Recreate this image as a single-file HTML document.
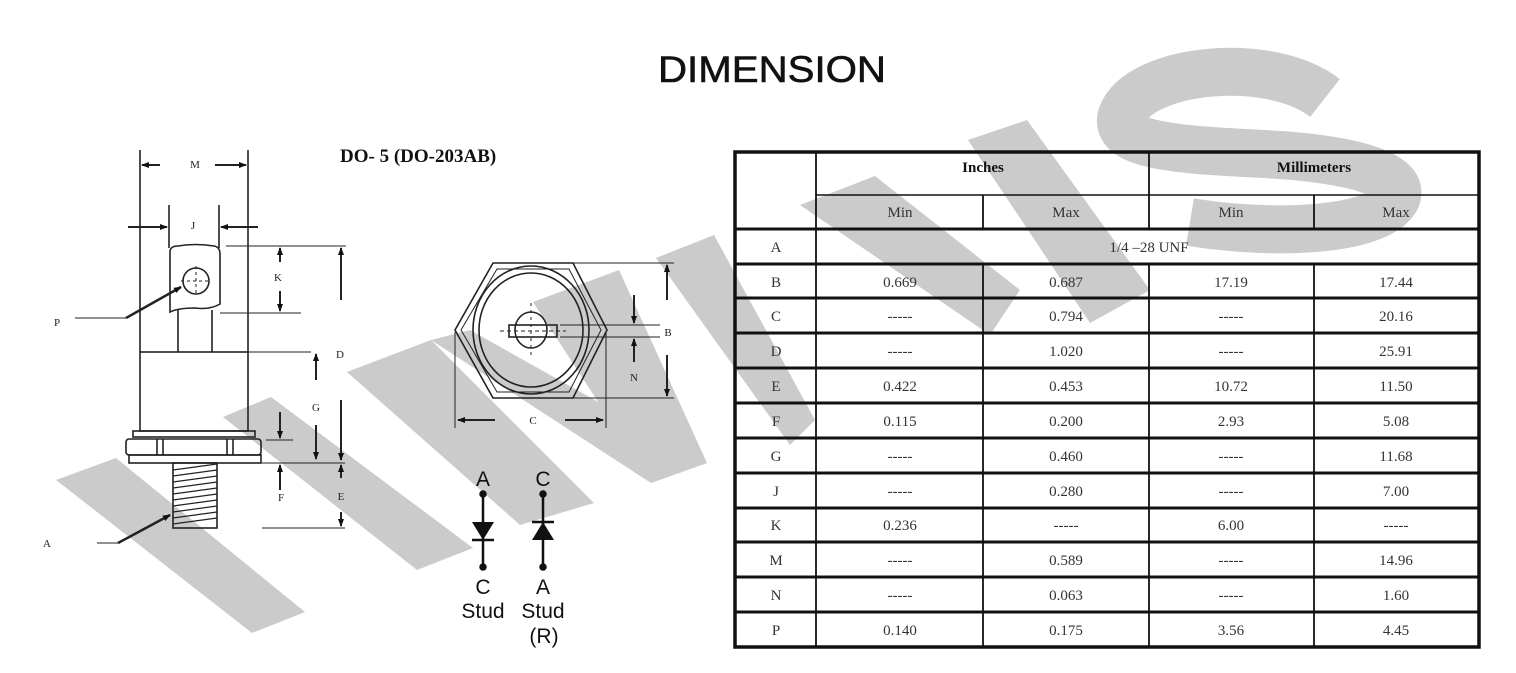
<!DOCTYPE html>
<html><head><meta charset="utf-8"><style>
html,body{margin:0;padding:0;background:#fff;}
svg{display:block;}
.t{font-family:"Liberation Serif",serif;fill:#333;}
.s{font-family:"Liberation Sans",sans-serif;fill:#111;}
</style></head><body>
<svg width="1516" height="673" viewBox="0 0 1516 673" xmlns="http://www.w3.org/2000/svg">
<defs>
<marker id="ar" markerWidth="8" markerHeight="8" refX="7" refY="4" orient="auto" markerUnits="userSpaceOnUse"><path d="M0,1 L8,4 L0,7 Z" fill="#111"/></marker>
</defs>
<rect width="1516" height="673" fill="#fff"/>

<!-- WATERMARK (behind) -->
<g fill="#cbcbcb">
<polygon points="56,480 116,458 305,612 252,633"/>
<polygon points="223,417 271,397 473,548 417,570"/>
<polygon points="347,372 431,340 594,503 520,525"/>
<polygon points="431,340 470,330 707,463 651,483"/>
<polygon points="533,302 619,270 707,463 651,483"/>
<polygon points="656,258 714,235 815,420 790,445"/>
<polygon points="800,205 875,176 1020,290 990,335"/>
<polygon points="968,140 1027,120 1150,290 1090,323"/>
</g>
<path d="M1325,98 C1270,55 1140,68 1122,115 C1110,150 1200,150 1280,155 C1380,162 1420,185 1385,210 C1345,235 1250,232 1190,222" fill="none" stroke="#cbcbcb" stroke-width="48"/>

<text x="772" y="82" text-anchor="middle" class="s" font-size="37" textLength="228" lengthAdjust="spacingAndGlyphs" style="fill:#111;stroke:#111;stroke-width:0.6">DIMENSION</text>
<text x="340" y="162" class="t" font-size="19" font-weight="bold" style="fill:#111">DO- 5 (DO-203AB)</text>

<!-- LEFT DEVICE -->
<g stroke="#222" stroke-width="1.6" fill="none">
<line x1="140" y1="150" x2="140" y2="352"/>
<line x1="248" y1="150" x2="248" y2="352"/>
<line x1="160" y1="165" x2="142" y2="165" marker-end="url(#ar)" stroke-width="2"/>
<line x1="215" y1="165" x2="246" y2="165" marker-end="url(#ar)" stroke-width="2"/>
<line x1="169" y1="205" x2="169" y2="248"/>
<line x1="219" y1="205" x2="219" y2="248"/>
<line x1="128" y1="227" x2="167" y2="227" marker-end="url(#ar)" stroke-width="2"/>
<line x1="258" y1="227" x2="221" y2="227" marker-end="url(#ar)" stroke-width="2"/>
<path d="M170,252 Q170,246 178,246 Q195,243 214,246 Q220,247 220,254 L220,304 Q210,310 195,308 Q178,308 170,312 Z"/>
<circle cx="196" cy="281" r="13"/>
<line x1="196" y1="266" x2="196" y2="296" stroke-dasharray="3,3" stroke-width="1"/>
<line x1="181" y1="281" x2="211" y2="281" stroke-dasharray="3,3" stroke-width="1"/>
<line x1="178" y1="310" x2="178" y2="352"/>
<line x1="212" y1="310" x2="212" y2="352"/>
<rect x="140" y="352" width="108" height="79"/>
<rect x="133" y="431" width="122" height="6"/>
<rect x="126" y="439" width="135" height="16" rx="3"/>
<line x1="157" y1="439" x2="157" y2="455"/><line x1="163" y1="439" x2="163" y2="455"/>
<line x1="227" y1="439" x2="227" y2="455"/><line x1="233" y1="439" x2="233" y2="455"/>
<rect x="129" y="455" width="132" height="8"/>
<rect x="173" y="463" width="44" height="65"/>
<g stroke-width="1.2">
<line x1="173" y1="470" x2="217" y2="464"/><line x1="173" y1="476" x2="217" y2="470"/><line x1="173" y1="482" x2="217" y2="476"/><line x1="173" y1="488" x2="217" y2="482"/><line x1="173" y1="494" x2="217" y2="488"/><line x1="173" y1="500" x2="217" y2="494"/><line x1="173" y1="506" x2="217" y2="500"/><line x1="173" y1="512" x2="217" y2="506"/><line x1="173" y1="518" x2="217" y2="512"/><line x1="173" y1="524" x2="217" y2="518"/>
</g>
<line x1="75" y1="318" x2="126" y2="318" stroke-width="1"/>
<line x1="126" y1="318" x2="181" y2="287" stroke-width="2.5" marker-end="url(#ar)"/>
<line x1="97" y1="543" x2="118" y2="543" stroke-width="1"/>
<line x1="118" y1="543" x2="170" y2="515" stroke-width="2.5" marker-end="url(#ar)"/>
<line x1="226" y1="246" x2="346" y2="246" stroke-width="1"/>
<line x1="220" y1="313" x2="301" y2="313" stroke-width="1"/>
<line x1="248" y1="352" x2="311" y2="352" stroke-width="1"/>
<line x1="280" y1="262" x2="280" y2="248" marker-end="url(#ar)" stroke-width="2"/>
<line x1="280" y1="291" x2="280" y2="311" marker-end="url(#ar)" stroke-width="2"/>
<line x1="341" y1="300" x2="341" y2="248" marker-end="url(#ar)" stroke-width="2"/>
<line x1="316" y1="380" x2="316" y2="354" marker-end="url(#ar)" stroke-width="2"/>
<line x1="316" y1="425" x2="316" y2="459" marker-end="url(#ar)" stroke-width="2"/>
<line x1="280" y1="412" x2="280" y2="438" marker-end="url(#ar)" stroke-width="2"/>
<line x1="266" y1="440" x2="293" y2="440" stroke-width="1"/>
<line x1="341" y1="400" x2="341" y2="460" marker-end="url(#ar)" stroke-width="2"/>
<line x1="262" y1="463" x2="345" y2="463" stroke-width="1"/>
<line x1="280" y1="490" x2="280" y2="465" marker-end="url(#ar)" stroke-width="2"/>
<line x1="341" y1="478" x2="341" y2="465" marker-end="url(#ar)" stroke-width="2"/>
<line x1="341" y1="512" x2="341" y2="526" marker-end="url(#ar)" stroke-width="2"/>
<line x1="262" y1="528" x2="345" y2="528" stroke-width="1"/>
</g>
<g class="t" font-size="11" style="fill:#222">
<text x="195" y="168" text-anchor="middle">M</text>
<text x="193" y="229" text-anchor="middle">J</text>
<text x="278" y="281" text-anchor="middle">K</text>
<text x="57" y="326" text-anchor="middle">P</text>
<text x="340" y="358" text-anchor="middle">D</text>
<text x="316" y="411" text-anchor="middle">G</text>
<text x="281" y="501" text-anchor="middle">F</text>
<text x="341" y="500" text-anchor="middle">E</text>
<text x="47" y="547" text-anchor="middle">A</text>
<text x="533" y="424" text-anchor="middle">C</text>
<text x="668" y="336" text-anchor="middle">B</text>
<text x="634" y="381" text-anchor="middle">N</text>
</g>

<!-- HEX VIEW -->
<g stroke="#222" stroke-width="1.6" fill="none">
<polygon points="493,263 573,263 607,330 573,398 493,398 455,330"/>
<polygon points="497,269 569,269 601,330 569,392 497,392 461,330" stroke-width="1"/>
<ellipse cx="531" cy="330" rx="58" ry="64"/>
<ellipse cx="531" cy="330" rx="52" ry="57"/>
<ellipse cx="531" cy="330" rx="16" ry="18"/>
<rect x="509" y="325" width="48" height="12"/>
<line x1="500" y1="331" x2="566" y2="331" stroke-dasharray="4,3" stroke-width="1"/>
<line x1="531" y1="303" x2="531" y2="358" stroke-dasharray="3,4" stroke-width="1"/>
<line x1="573" y1="263" x2="674" y2="263" stroke-width="1"/>
<line x1="573" y1="398" x2="674" y2="398" stroke-width="1"/>
<line x1="560" y1="325" x2="660" y2="325" stroke-width="1"/>
<line x1="560" y1="337" x2="660" y2="337" stroke-width="1"/>
<line x1="667" y1="300" x2="667" y2="265" marker-end="url(#ar)" stroke-width="2"/>
<line x1="667" y1="355" x2="667" y2="396" marker-end="url(#ar)" stroke-width="2"/>
<line x1="634" y1="295" x2="634" y2="323" marker-end="url(#ar)" stroke-width="2"/>
<line x1="634" y1="362" x2="634" y2="339" marker-end="url(#ar)" stroke-width="2"/>
<line x1="455" y1="332" x2="455" y2="428" stroke-width="1"/>
<line x1="606" y1="332" x2="606" y2="428" stroke-width="1"/>
<line x1="495" y1="420" x2="458" y2="420" marker-end="url(#ar)" stroke-width="2"/>
<line x1="565" y1="420" x2="603" y2="420" marker-end="url(#ar)" stroke-width="2"/>
</g>

<!-- DIODES -->
<g stroke="#111" stroke-width="2.5" fill="#111">
<line x1="483" y1="494" x2="483" y2="567"/>
<circle cx="483" cy="494" r="2.5"/><circle cx="483" cy="567" r="2.5"/>
<polygon points="472,522 494,522 483,540" stroke="none"/>
<line x1="472" y1="540" x2="494" y2="540"/>
<line x1="543" y1="494" x2="543" y2="567"/>
<circle cx="543" cy="494" r="2.5"/><circle cx="543" cy="567" r="2.5"/>
<polygon points="532,540 554,540 543,522" stroke="none"/>
<line x1="532" y1="522" x2="554" y2="522"/>
</g>
<g class="s" font-size="21" text-anchor="middle">
<text x="483" y="486">A</text><text x="543" y="486">C</text>
<text x="483" y="594">C</text><text x="543" y="594">A</text>
<text x="483" y="618">Stud</text><text x="543" y="618">Stud</text>
<text x="544" y="643">(R)</text>
</g>

<!-- TABLE -->
<g stroke="#111" fill="none">
<rect x="735" y="152" width="744" height="495" stroke-width="3.5"/>
<line x1="816" y1="195" x2="1479" y2="195" stroke-width="1.5"/>
<g stroke-width="3">
<line x1="735" y1="229" x2="1479" y2="229"/><line x1="735" y1="264" x2="1479" y2="264"/>
<line x1="735" y1="298" x2="1479" y2="298"/><line x1="735" y1="333" x2="1479" y2="333"/>
<line x1="735" y1="368" x2="1479" y2="368"/><line x1="735" y1="403" x2="1479" y2="403"/>
<line x1="735" y1="438" x2="1479" y2="438"/><line x1="735" y1="473" x2="1479" y2="473"/>
<line x1="735" y1="508" x2="1479" y2="508"/><line x1="735" y1="542" x2="1479" y2="542"/>
<line x1="735" y1="577" x2="1479" y2="577"/><line x1="735" y1="612" x2="1479" y2="612"/>
</g>
<g stroke-width="1.8">
<line x1="816" y1="152" x2="816" y2="647"/>
<line x1="1149" y1="152" x2="1149" y2="229"/>
<line x1="983" y1="195" x2="983" y2="229"/>
<line x1="1314" y1="195" x2="1314" y2="229"/>
<line x1="983" y1="264" x2="983" y2="647"/>
<line x1="1149" y1="264" x2="1149" y2="647"/>
<line x1="1314" y1="264" x2="1314" y2="647"/>
</g>
</g>
<g class="t" font-size="15" text-anchor="middle">
<text x="983" y="172" font-weight="bold" style="fill:#111">Inches</text>
<text x="1314" y="172" font-weight="bold" style="fill:#111">Millimeters</text>
<text x="900" y="217">Min</text><text x="1066" y="217">Max</text><text x="1231" y="217">Min</text><text x="1396" y="217">Max</text>
<text x="776" y="252">A</text><text x="1149" y="252">1/4 –28 UNF</text>
<text x="776" y="287">B</text><text x="900" y="287">0.669</text><text x="1066" y="287">0.687</text><text x="1231" y="287">17.19</text><text x="1396" y="287">17.44</text>
<text x="776" y="321">C</text><text x="900" y="321">-----</text><text x="1066" y="321">0.794</text><text x="1231" y="321">-----</text><text x="1396" y="321">20.16</text>
<text x="776" y="356">D</text><text x="900" y="356">-----</text><text x="1066" y="356">1.020</text><text x="1231" y="356">-----</text><text x="1396" y="356">25.91</text>
<text x="776" y="391">E</text><text x="900" y="391">0.422</text><text x="1066" y="391">0.453</text><text x="1231" y="391">10.72</text><text x="1396" y="391">11.50</text>
<text x="776" y="426">F</text><text x="900" y="426">0.115</text><text x="1066" y="426">0.200</text><text x="1231" y="426">2.93</text><text x="1396" y="426">5.08</text>
<text x="776" y="461">G</text><text x="900" y="461">-----</text><text x="1066" y="461">0.460</text><text x="1231" y="461">-----</text><text x="1396" y="461">11.68</text>
<text x="776" y="496">J</text><text x="900" y="496">-----</text><text x="1066" y="496">0.280</text><text x="1231" y="496">-----</text><text x="1396" y="496">7.00</text>
<text x="776" y="530">K</text><text x="900" y="530">0.236</text><text x="1066" y="530">-----</text><text x="1231" y="530">6.00</text><text x="1396" y="530">-----</text>
<text x="776" y="565">M</text><text x="900" y="565">-----</text><text x="1066" y="565">0.589</text><text x="1231" y="565">-----</text><text x="1396" y="565">14.96</text>
<text x="776" y="600">N</text><text x="900" y="600">-----</text><text x="1066" y="600">0.063</text><text x="1231" y="600">-----</text><text x="1396" y="600">1.60</text>
<text x="776" y="635">P</text><text x="900" y="635">0.140</text><text x="1066" y="635">0.175</text><text x="1231" y="635">3.56</text><text x="1396" y="635">4.45</text>
</g>
</svg>
</body></html>
